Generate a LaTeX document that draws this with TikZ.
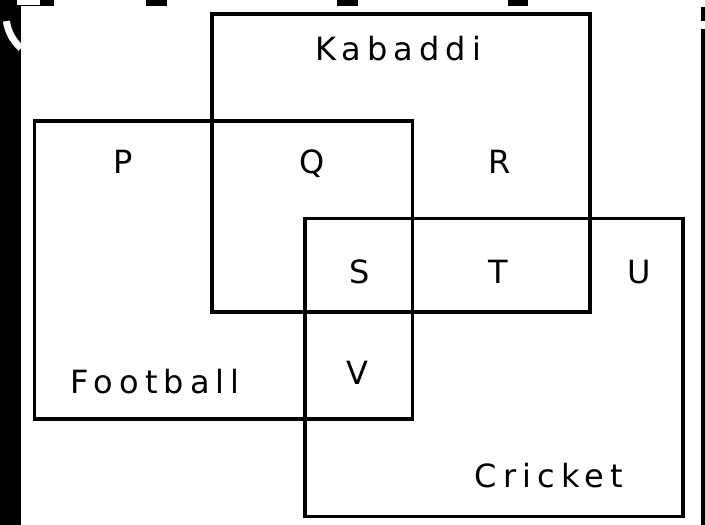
\documentclass[tikz,border=0pt]{standalone}
\usepackage{fontspec}
\newfontfamily\labelfont{DejaVu Sans}[LetterSpace=19]
\begin{document}
\begin{tikzpicture}[x=1pt,y=-1pt,
  setbox/.style={draw=black, line width=3.3pt, minimum width=378pt, minimum height=298pt, inner sep=0pt, outer sep=0pt},
  lbl/.style={anchor=base, inner sep=0pt, outer sep=0pt, font=\labelfont\fontsize{32}{38}\selectfont}]
\useasboundingbox (0,0) rectangle (705,525);
\fill[white] (0,0) rectangle (705,525);
% edge artefacts
\fill[black] (0,0) rectangle (21,525);
\fill[black] (21,0) rectangle (54,6);
\fill[white] (17,0) rectangle (40,4.5);
\begin{scope}
\clip (0,0) rectangle (21,525);
\draw[white, line width=7pt] plot[domain=131:172, samples=25] ({50+44*cos(\x)},{15+44*sin(\x)});
\end{scope}
\fill[black] (146,0) rectangle (167,6);
\fill[black] (337,0) rectangle (358,6);
\fill[black] (508,0) rectangle (528,6);
\fill[black] (701,7) rectangle (705,21);
\fill[black] (701,29) rectangle (705,525);
% sets
\node[setbox] (kabaddi) at (401,162.85) {};
\node[setbox] (football) at (223.65,270) {};
\node[setbox] (cricket) at (493.85,367.5) {};
% labels
\node[lbl] (tk) at (398,60.7) {Kabaddi};
\node[lbl] (tf) at (155,393.3) {Football};
\node[lbl] (tc) at (549,487.3) {Cricket};
\node[lbl] (p) at (123,173.3) {P};
\node[lbl] (q) at (312,173.3) {Q};
\node[lbl] (r) at (500,173.3) {R};
\node[lbl] (s) at (360,283.5) {S};
\node[lbl] (t) at (498,283.5) {T};
\node[lbl] (u) at (639,283.5) {U};
\node[lbl] (v) at (357,384) {V};
\end{tikzpicture}
\end{document}
